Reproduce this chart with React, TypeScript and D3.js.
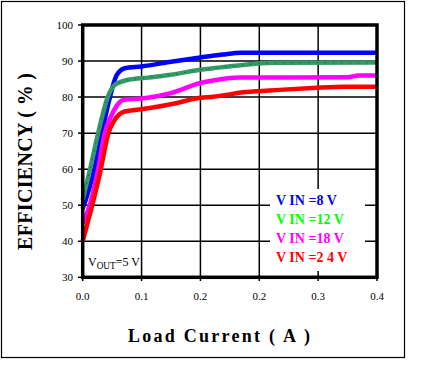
import React from "react";
import * as d3 from "d3";

const xTicks = [0, 0.08, 0.16, 0.24, 0.32, 0.4];
const xTickLabels = ["0.0", "0.1", "0.2", "0.2", "0.3", "0.4"];
const yTicks = [30, 40, 50, 60, 70, 80, 90, 100];

const blueX = [0, 0.016, 0.026, 0.037, 0.046, 0.057, 0.08, 0.12, 0.16, 0.19, 0.215, 0.4];
const blueY = [49, 60, 70, 80, 86, 88, 88.5, 89.8, 91, 91.8, 92.3, 92.3];

const greenX = [0, 0.01, 0.021, 0.034, 0.044, 0.062, 0.089, 0.12, 0.16, 0.177, 0.208, 0.26, 0.4];
const greenY = [51.5, 60, 70, 80, 83.4, 84.8, 85.4, 86.2, 87.6, 88.0, 88.7, 89.5, 89.6];

const magentaX = [0, 0.011, 0.021, 0.03, 0.037, 0.046, 0.055, 0.08, 0.12, 0.16, 0.177, 0.213, 0.36, 0.375, 0.4];
const magentaY = [45, 51, 60, 70, 74, 77.5, 79.2, 79.6, 81.1, 83.9, 84.6, 85.4, 85.5, 86, 86];

const redX = [0, 0.0236, 0.035, 0.042, 0.057, 0.08, 0.12, 0.16, 0.177, 0.222, 0.267, 0.312, 0.357, 0.4];
const redY = [40, 59, 70, 73.2, 76, 76.6, 78, 79.8, 80.1, 81.4, 82, 82.5, 82.9, 82.9];

const seriesNames = ["V IN =8 V", "V IN =12 V", "V IN =18 V", "V IN =2 4 V"];
const lineColors = ["#0000ff", "#339966", "#ff00ff", "#ff0000"];
const legendColors = ["#0000ff", "#00ff00", "#ff00ff", "#ff0000"];

const W = 426;
const H = 378;

export default function App() {
  const x = d3.scaleLinear().domain([0, 0.4]).range([82.7, 377]);
  const y = d3.scaleLinear().domain([30, 100]).range([277.3, 25]);

  const series = [
    { xs: blueX, ys: blueY },
    { xs: greenX, ys: greenY },
    { xs: magentaX, ys: magentaY },
    { xs: redX, ys: redY },
  ];

  const line = d3
    .line<[number, number]>()
    .x((d) => x(d[0]))
    .y((d) => y(d[1]))
    .curve(d3.curveMonotoneX);

  const paths = series.map((s) => line(s.xs.map((v, i) => [v, s.ys[i]] as [number, number])) || "");

  const serif = "'Liberation Serif', 'Times New Roman', serif";
  const [x0, x1] = x.range();
  const [y0, y1] = [y(30), y(100)];

  return (
    <svg
      width={W}
      height={H}
      style={{ position: "fixed", left: 0, top: 0, background: "#fff" }}
      fontFamily={serif}
    >
      <rect x={0} y={0} width={W} height={H} fill="#fff" />
      <rect x={1.5} y={1.5} width={403} height={356} fill="none" stroke="#000" strokeWidth={1.2} />

      {/* gridlines */}
      {yTicks.slice(1, -1).map((t) => (
        <line key={"gy" + t} x1={x0} x2={x1} y1={y(t)} y2={y(t)} stroke="#000" strokeWidth={1.5} />
      ))}
      {xTicks.slice(1, -1).map((t, i) => (
        <line key={"gx" + i} x1={x(t)} x2={x(t)} y1={y1} y2={y0} stroke="#000" strokeWidth={1.5} />
      ))}

      {/* y ticks */}
      {yTicks.map((t) => (
        <g key={"ty" + t}>
          <line x1={78} x2={x0} y1={y(t)} y2={y(t)} stroke="#000" strokeWidth={1.5} />
          <text x={73} y={y(t) + 3.8} fontSize={11} textAnchor="end" fill="#000">
            {t}
          </text>
        </g>
      ))}
      {/* x ticks */}
      {xTicks.map((t, i) => (
        <g key={"tx" + i}>
          <line x1={x(t)} x2={x(t)} y1={y0} y2={281} stroke="#000" strokeWidth={1.5} />
          <text x={x(t)} y={300} fontSize={11} textAnchor="middle" fill="#000">
            {xTickLabels[i]}
          </text>
        </g>
      ))}

      {/* curves */}
      {paths.map((d, i) => (
        <path key={"p" + i} d={d} fill="none" stroke={lineColors[i]} strokeWidth={4.5} strokeLinejoin="round" />
      ))}
      <path d={paths[1]} fill="none" stroke="#1d4d33" strokeWidth={1} strokeDasharray="1 7.3" />

      {/* plot border */}
      <rect x={x0} y={y1} width={x1 - x0} height={y0 - y1} fill="none" stroke="#000" strokeWidth={3.5} />

      {/* legend */}
      <rect x={270} y={189} width={95} height={82} fill="#fff" />
      {seriesNames.map((n, i) => (
        <text key={"l" + i} x={276} y={205 + i * 19.1} fontSize={14} fontWeight="bold" fill={legendColors[i]}>
          {n}
        </text>
      ))}

      {/* Vout label */}
      <text x={88} y={266} fontSize={13} fill="#000" textLength={52} lengthAdjust="spacingAndGlyphs">
        V<tspan fontSize={10} dy={3}>OUT</tspan>
        <tspan dy={-3}>=5 V</tspan>
      </text>

      {/* axis titles */}
      <text
        x={219}
        y={342}
        fontSize={18}
        fontWeight="bold"
        textAnchor="middle"
        fill="#000"
        textLength={182}
        lengthAdjust="spacing"
      >
        Load Current ( A )
      </text>
      <text
        transform="translate(32,161.5) rotate(-90)"
        fontSize={20}
        fontWeight="bold"
        textAnchor="middle"
        fill="#000"
        textLength={177}
        lengthAdjust="spacing"
      >
        EFFICIENCY ( % )
      </text>
    </svg>
  );
}
